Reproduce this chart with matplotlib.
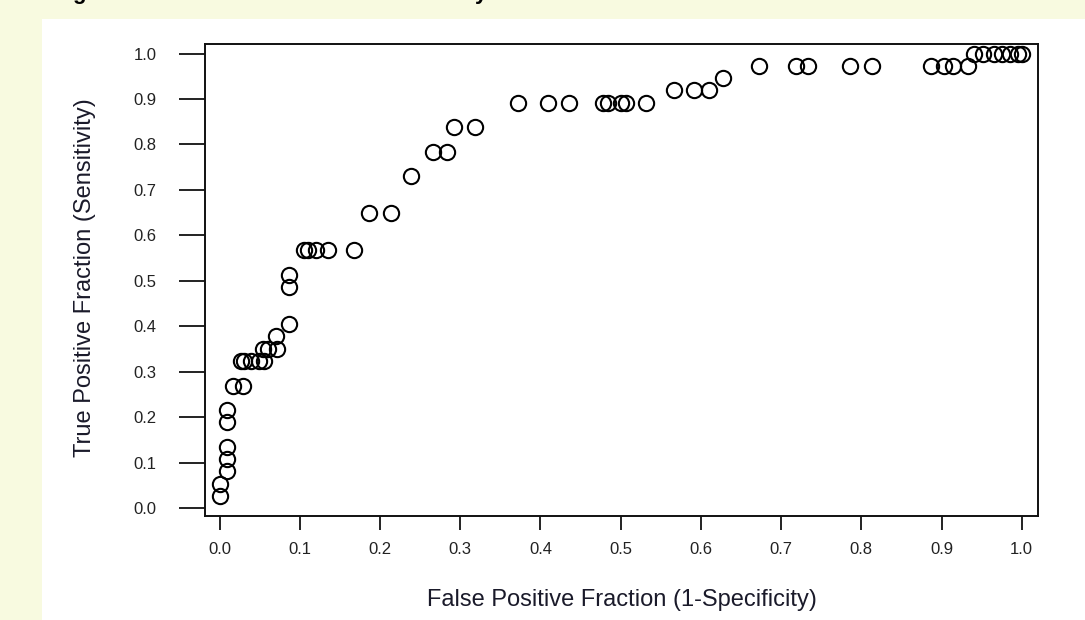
import matplotlib.pyplot as plt
from matplotlib.patches import Rectangle

# ROC points
fpf = [0.0, 0.001, 0.009, 0.009, 0.009, 0.009, 0.009,
       0.017, 0.029,
       0.026, 0.030, 0.039, 0.049, 0.055,
       0.054, 0.060, 0.072,
       0.070,
       0.087, 0.087, 0.087,
       0.105, 0.110, 0.120, 0.135, 0.167,
       0.186, 0.213,
       0.239,
       0.266, 0.284,
       0.292, 0.318,
       0.372, 0.409, 0.435, 0.478, 0.484, 0.500, 0.506, 0.531,
       0.566, 0.591, 0.610,
       0.628,
       0.672, 0.718, 0.734, 0.786, 0.813, 0.887, 0.903, 0.914, 0.933,
       0.940, 0.952, 0.965, 0.975, 0.985, 0.995, 1.000]
tpf = [0.027, 0.054, 0.081, 0.108, 0.135, 0.189, 0.216,
       0.270, 0.270,
       0.324, 0.324, 0.324, 0.324, 0.324,
       0.351, 0.351, 0.351,
       0.378,
       0.405, 0.486, 0.514,
       0.568, 0.568, 0.568, 0.568, 0.568,
       0.649, 0.649,
       0.730,
       0.784, 0.784,
       0.838, 0.838,
       0.892, 0.892, 0.892, 0.892, 0.892, 0.892, 0.892, 0.892,
       0.919, 0.919, 0.919,
       0.946,
       0.973, 0.973, 0.973, 0.973, 0.973, 0.973, 0.973, 0.973, 0.973,
       1.0, 1.0, 1.0, 1.0, 1.0, 1.0, 1.0]

x_ticks = [0.0, 0.1, 0.2, 0.3, 0.4, 0.5, 0.6, 0.7, 0.8, 0.9, 1.0]
y_ticks = [0.0, 0.1, 0.2, 0.3, 0.4, 0.5, 0.6, 0.7, 0.8, 0.9, 1.0]
x_title = 'False Positive Fraction (1-Specificity)'
y_title = 'True Positive Fraction (Sensitivity)'

plt.rcParams['font.family'] = ['Liberation Sans', 'DejaVu Sans']

W, H = 1085, 620
fig = plt.figure(figsize=(W / 100, H / 100), dpi=100, facecolor='#f8fae0')

# white panel sitting on the pale yellow page
fig.patches.append(Rectangle((42 / W, 0), 1 - 42 / W, 1 - 19 / H,
                             transform=fig.transFigure, facecolor='white',
                             edgecolor='none', zorder=-10))

# bits of a bold heading cut off at the top edge (cut off in the original too)
fig.text(79 / W, 1 + 1.5 / H, 'g', fontsize=16, fontweight='bold',
         ha='center', va='baseline', color='black')
fig.text(481 / W, 1 + 1.5 / H, 'y', fontsize=16, fontweight='bold',
         ha='center', va='baseline', color='black')

ax = fig.add_axes([205 / W, 1 - 516 / H, (1038 - 205) / W, (516 - 44) / H])
ax.set_facecolor('white')

ax.plot(fpf, tpf, linestyle='none', marker='o', markersize=11,
        markerfacecolor='none', markeredgecolor='black', markeredgewidth=1.5)

ax.set_xlim(-0.0183, 1.0203)
ax.set_ylim(-0.0169, 1.0209)

ax.set_xticks(x_ticks)
ax.set_yticks(y_ticks)
ax.set_xticklabels([f'{v:.1f}' for v in x_ticks])
ax.set_yticklabels([f'{v:.1f}' for v in y_ticks])

for s in ax.spines.values():
    s.set_linewidth(1.4)
    s.set_color('#111111')

ax.tick_params(axis='x', direction='out', length=10, width=1.4, pad=9,
               labelsize=12, colors='#222222')
ax.tick_params(axis='y', direction='out', length=19, width=1.4, pad=16,
               labelsize=12, colors='#222222')

ax.set_xlabel(x_title, fontsize=17, color='#1a1a2a', va='center')
ax.xaxis.set_label_coords(0.5006, -0.178)
ax.set_ylabel(y_title, fontsize=17, color='#1a1a2a', va='center')
ax.yaxis.set_label_coords(-0.144, 0.504)

fig.savefig('out.png', dpi=100, facecolor=fig.get_facecolor())
